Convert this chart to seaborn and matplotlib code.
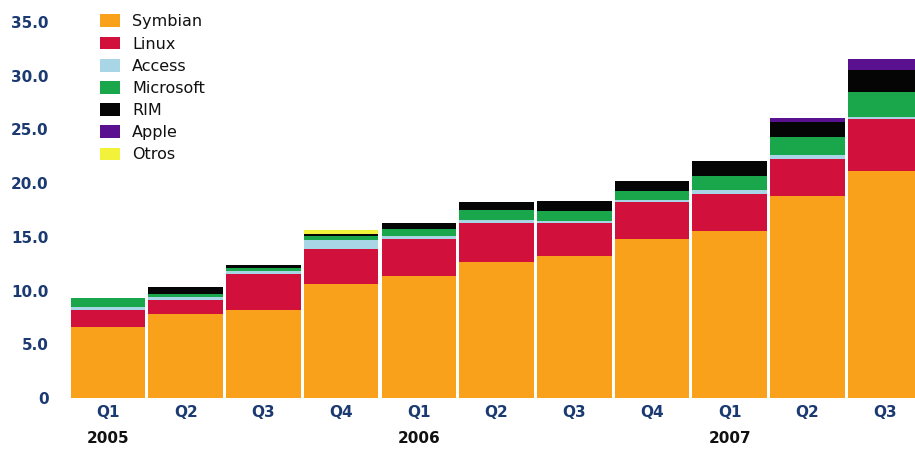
import matplotlib
matplotlib.use("Agg")
import matplotlib.pyplot as plt
import seaborn as sns
import numpy as np
import pandas as pd
from matplotlib.patches import Patch
from matplotlib.transforms import blended_transform_factory

quarters = ["Q1", "Q2", "Q3", "Q4", "Q1", "Q2", "Q3", "Q4", "Q1", "Q2", "Q3"]
periods = ["2005Q1", "2005Q2", "2005Q3", "2005Q4", "2006Q1", "2006Q2",
           "2006Q3", "2006Q4", "2007Q1", "2007Q2", "2007Q3"]
years = ["2005", "2006", "2007"]
year_positions = [0, 4, 8]

series_names = ["Symbian", "Linux", "Access", "Microsoft", "RIM", "Apple", "Otros"]
symbian = [6.6, 7.8, 8.2, 10.6, 11.4, 12.7, 13.2, 14.8, 15.5, 18.8, 21.1]
linux = [1.6, 1.3, 3.3, 3.3, 3.4, 3.6, 3.1, 3.4, 3.5, 3.45, 4.9]
access = [0.3, 0.3, 0.3, 0.8, 0.3, 0.3, 0.2, 0.25, 0.35, 0.35, 0.2]
microsoft = [0.8, 0.3, 0.3, 0.4, 0.6, 0.9, 0.9, 0.85, 1.35, 1.65, 2.3]
rim = [0.0, 0.6, 0.3, 0.2, 0.6, 0.7, 0.9, 0.9, 1.35, 1.45, 2.0]
apple = [0.0, 0.0, 0.0, 0.0, 0.0, 0.0, 0.0, 0.0, 0.0, 0.4, 1.1]
otros = [0.0, 0.0, 0.0, 0.3, 0.0, 0.0, 0.0, 0.0, 0.0, 0.0, 0.0]

colors = ["#F9A11B", "#D2103C", "#A9D6E6", "#1AA64A", "#050505", "#5A1190", "#F2F23A"]

values = [symbian, linux, access, microsoft, rim, apple, otros]
df = pd.DataFrame({name: v for name, v in zip(series_names, values)})
df["period"] = periods
cum = df[series_names].cumsum(axis=1)
cum["period"] = periods

sns.set_style("white")
fig = plt.figure(figsize=(9.15, 4.49), dpi=100)
ax = fig.add_axes([68 / 915, 51 / 449, 847 / 915, 376 / 449])

for name, color in reversed(list(zip(series_names, colors))):
    sns.barplot(data=cum, x="period", y=name, color=color, width=0.96,
                saturation=1, ax=ax, linewidth=0, edgecolor="none")

ax.set_ylim(0, 35)
ax.set_xlim(-0.515, 10.386)
for s in ax.spines.values():
    s.set_visible(False)

label_color = "#1B3A72"
yt = [0, 5, 10, 15, 20, 25, 30, 35]
ax.set_yticks(yt)
ax.set_yticklabels(["0"] + [f"{v:.1f}" for v in yt[1:]], fontsize=11,
                   fontweight="bold", color=label_color)
ax.set_xticks(range(len(quarters)))
ax.set_xticklabels(quarters, fontsize=11, fontweight="bold", color=label_color)
ax.tick_params(axis="y", length=0, pad=14)
ax.tick_params(axis="x", length=0, pad=5)
ax.set_xlabel("")
ax.set_ylabel("")

tr = blended_transform_factory(ax.transData, ax.transAxes)
for yr, pos in zip(years, year_positions):
    ax.text(pos, -0.107, yr, transform=tr, ha="center", va="center",
            fontsize=11, fontweight="bold", color="#111111")

handles = [Patch(facecolor=c, edgecolor="none", label=n)
           for n, c in zip(series_names, colors)]
leg = fig.legend(handles=handles, loc="upper left", bbox_to_anchor=(0.097, 0.993),
                 frameon=False, fontsize=11.5, handlelength=1.25, handleheight=0.85,
                 labelspacing=0.45, handletextpad=0.75, borderpad=0.2)
for t in leg.get_texts():
    t.set_color("#111111")

fig.savefig("out.png", dpi=100)
